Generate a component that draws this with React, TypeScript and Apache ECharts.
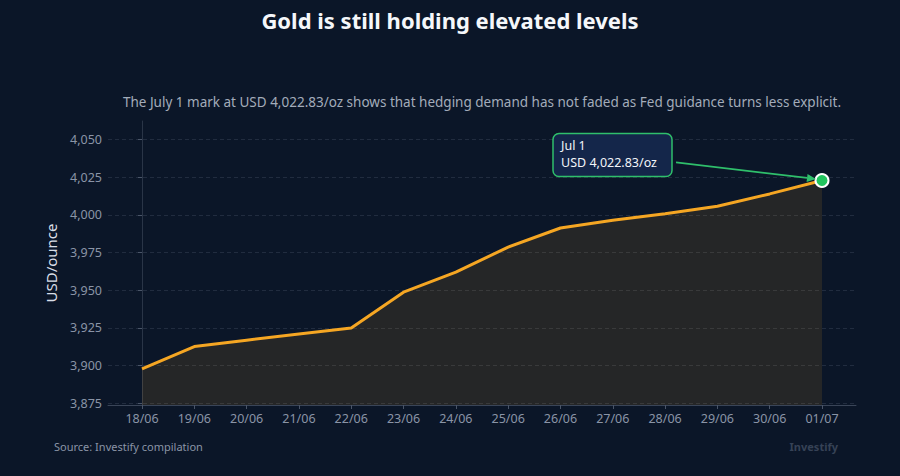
import React, { useEffect, useRef } from "react";
import * as echarts from "echarts";

const dates = ["18/06", "19/06", "20/06", "21/06", "22/06", "23/06", "24/06", "25/06", "26/06", "27/06", "28/06", "29/06", "30/06", "01/07"];
const prices = [3897.8, 3912.6, 3916.8, 3921.0, 3924.9, 3948.7, 3962.0, 3978.6, 3991.3, 3996.4, 4000.8, 4005.7, 4013.9, 4022.83];
const yTicks = [3875, 3900, 3925, 3950, 3975, 4000, 4025, 4050];

const titleText = "Gold is still holding elevated levels";
const subtitleText = "The July 1 mark at USD 4,022.83/oz shows that hedging demand has not faded as Fed guidance turns less explicit.";
const calloutLines = ["Jul 1", "USD 4,022.83/oz"];
const sourceText = "Source: Investify compilation";
const brandText = "Investify";

const BG = "#0b1628";
const GOLD = "#f5a623";
const GREEN = "#2fbf6b";
const MUTED = "#8a94a6";
const FONT = "Noto Sans";

export default function App() {
  const ref = useRef<HTMLDivElement>(null);

  useEffect(() => {
    if (!ref.current) return;
    const chart = echarts.init(ref.current, undefined, { renderer: "svg" });
    const lastIdx = prices.length - 1;
    const grid = { left: 108, top: 121, right: 44, bottom: 71 };

    chart.setOption({
      animation: false,
      backgroundColor: BG,
      textStyle: { fontFamily: FONT },
      grid,
      xAxis: {
        type: "value",
        min: -0.65,
        max: lastIdx + 0.65,
        axisLine: { lineStyle: { color: "#3a4558", width: 1 } },
        axisTick: { show: true, length: 4, lineStyle: { color: "#4a5568" }, customValues: dates.map((_, i) => i) },
        axisLabel: {
          color: MUTED,
          fontSize: 12.5,
          margin: 7,
          customValues: dates.map((_, i) => i),
          formatter: (v: number) => dates[Math.round(v)] ?? "",
        },
        splitLine: { show: false },
      },
      yAxis: {
        type: "value",
        min: 3873.8,
        max: 4062.3,
        name: "USD/ounce",
        nameLocation: "middle",
        nameGap: 50,
        nameTextStyle: { color: "#d9dee7", fontSize: 15, fontFamily: FONT },
        axisLine: { show: true, lineStyle: { color: "#2a3547", width: 1 } },
        axisTick: { show: true, length: 4, lineStyle: { color: "#4a5568" }, customValues: yTicks },
        axisLabel: {
          color: MUTED,
          fontSize: 12.5,
          margin: 6,
          customValues: yTicks,
          formatter: (v: number) => v.toLocaleString("en-US"),
        },
        splitLine: { show: true, lineStyle: { color: "rgba(148,163,184,0.16)", type: [4, 3], width: 1 } },
      },
      series: [
        {
          type: "line",
          data: prices.map((p, i) => [i, p]),
          symbol: "none",
          lineStyle: { color: GOLD, width: 3 },
          areaStyle: { color: "rgba(245,166,35,0.16)", origin: "start" },
          z: 2,
        },
        {
          type: "scatter",
          data: [[lastIdx, prices[lastIdx]]],
          symbol: "circle",
          symbolSize: 13,
          itemStyle: { color: "#22c55e", borderColor: "#ffffff", borderWidth: 2, opacity: 1 },
          z: 5,
        },
      ],
    });

    // Callout anchored to the last point
    const [px, py] = chart.convertToPixel({ xAxisIndex: 0, yAxisIndex: 0 }, [lastIdx, prices[lastIdx]]) as number[];
    const boxW = 119;
    const boxH = 43;
    const boxX = px - 269;
    const boxY = py - 47;
    const ax0 = boxX + boxW + 4;
    const ay0 = boxY + 29;
    const ax1 = px - 6;
    const ay1 = py - 1.5;
    const ang = Math.atan2(ay1 - ay0, ax1 - ax0);
    const headLen = 9;
    const headW = 4;
    const bx = ax1 - headLen * Math.cos(ang);
    const by = ay1 - headLen * Math.sin(ang);
    const nx = -Math.sin(ang) * headW;
    const ny = Math.cos(ang) * headW;

    const plotCenterX = grid.left + (900 - grid.left - grid.right) / 2;

    chart.setOption({
      graphic: [
        {
          type: "text",
          left: "center",
          top: 9,
          style: { text: titleText, fill: "#f5f7fa", font: `bold 22px "${FONT}"` },
        },
        {
          type: "text",
          x: plotCenterX,
          y: 102,
          style: { text: subtitleText, fill: "#a3acba", font: `13.5px "${FONT}"`, align: "center", verticalAlign: "middle" },
        },
        {
          type: "rect",
          shape: { x: boxX, y: boxY, width: boxW, height: boxH, r: 6 },
          style: { fill: "#14264a", stroke: GREEN, lineWidth: 1.5 },
          z: 10,
        },
        ...calloutLines.map((line, i) => ({
          type: "text",
          x: boxX + 8,
          y: boxY + 12 + i * 17,
          style: { text: line, fill: "#f2f5f9", font: `12.5px "${FONT}"`, verticalAlign: "middle" },
          z: 11,
        })),
        {
          type: "line",
          shape: { x1: ax0, y1: ay0, x2: bx, y2: by },
          style: { stroke: GREEN, lineWidth: 1.8 },
          z: 10,
        },
        {
          type: "polygon",
          shape: { points: [[ax1, ay1], [bx + nx, by + ny], [bx - nx, by - ny]] },
          style: { fill: GREEN },
          z: 10,
        },
        {
          type: "text",
          x: 54,
          y: 446,
          style: { text: sourceText, fill: MUTED, font: `11px "${FONT}"`, verticalAlign: "middle" },
        },
        {
          type: "text",
          x: 838,
          y: 446,
          style: { text: brandText, fill: "#364256", font: `bold 11px "${FONT}"`, align: "right", verticalAlign: "middle" },
        },
      ],
    });

    return () => chart.dispose();
  }, []);

  return <div ref={ref} style={{ position: "fixed", left: 0, top: 0, width: 900, height: 476 }} />;
}
